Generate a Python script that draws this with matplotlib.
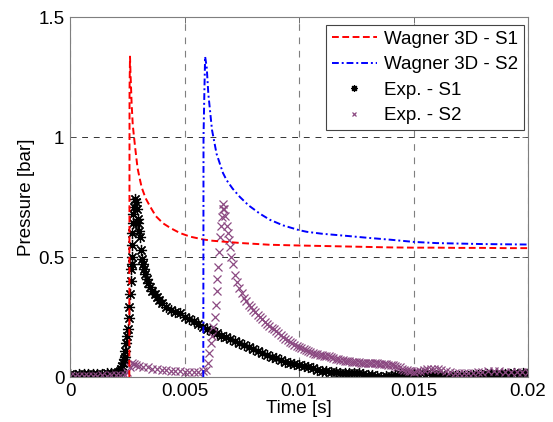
import numpy as np
import matplotlib
matplotlib.use("Agg")
import matplotlib.pyplot as plt
from matplotlib.ticker import FormatStrFormatter

# Wagner 3D model, (time [ms], pressure [bar])
wagner_s1 = [(2.59, 0.0), (2.60, 1.20), (2.62, 1.335), (2.64, 1.27), (2.66, 1.22),
             (2.69, 1.14), (2.74, 1.05), (2.84, 0.96), (2.95, 0.87), (3.06, 0.82),
             (3.13, 0.79), (3.3, 0.745), (3.5, 0.71), (3.75, 0.67), (4.07, 0.64),
             (4.4, 0.62), (4.8, 0.60), (5.24, 0.585), (5.82, 0.573), (6.2, 0.568),
             (6.7, 0.564), (7.5, 0.558), (8.73, 0.551), (10.0, 0.548), (11.0, 0.546),
             (12.0, 0.544), (13.0, 0.542), (14.0, 0.54), (15.0, 0.539), (16.0, 0.539),
             (17.0, 0.538), (18.0, 0.538), (19.0, 0.537), (20.0, 0.537)]

wagner_s2 = [(5.82, 0.0), (5.83, 1.0), (5.87, 1.2), (5.9, 1.335), (5.97, 1.29),
             (6.04, 1.18), (6.2, 1.03), (6.4, 0.93), (6.68, 0.85), (6.84, 0.82),
             (7.1, 0.785), (7.42, 0.75), (7.8, 0.715), (8.3, 0.68), (8.73, 0.655),
             (9.3, 0.632), (10.0, 0.612), (10.34, 0.605), (11.0, 0.597), (12.2, 0.587),
             (13.0, 0.58), (14.0, 0.572), (15.0, 0.563), (16.0, 0.558), (17.0, 0.556),
             (18.0, 0.554), (19.0, 0.553), (20.0, 0.552)]

# experiments, (time [ms], pressure [bar])
exp_s1 = [(0.0, 0.012), (0.2, 0.010), (0.4, 0.012), (0.6, 0.011), (0.8, 0.013),
          (1.0, 0.012), (1.2, 0.014), (1.4, 0.013), (1.6, 0.015), (1.8, 0.016),
          (2.0, 0.017), (2.1, 0.02), (2.18, 0.025), (2.22, 0.035), (2.26, 0.045),
          (2.30, 0.06), (2.34, 0.075), (2.38, 0.085), (2.42, 0.11), (2.46, 0.14),
          (2.50, 0.17), (2.53, 0.20), (2.56, 0.245), (2.59, 0.29), (2.62, 0.345),
          (2.65, 0.40), (2.68, 0.45), (2.69, 0.47), (2.70, 0.50), (2.71, 0.55),
          (2.72, 0.60), (2.74, 0.64), (2.76, 0.68), (2.79, 0.71), (2.84, 0.74),
          (2.88, 0.73), (2.92, 0.70), (2.95, 0.66), (2.98, 0.64), (3.02, 0.61),
          (3.06, 0.585), (3.10, 0.53), (3.13, 0.49), (3.18, 0.47), (3.23, 0.45),
          (3.28, 0.43), (3.35, 0.41), (3.42, 0.39), (3.50, 0.376), (3.6, 0.36),
          (3.7, 0.345), (3.8, 0.335), (3.9, 0.32), (4.0, 0.31), (4.2, 0.29),
          (4.4, 0.28), (4.6, 0.27), (4.8, 0.265), (5.0, 0.252), (5.2, 0.24),
          (5.4, 0.232), (5.6, 0.22), (5.8, 0.21), (6.0, 0.20), (6.2, 0.19),
          (6.4, 0.182), (6.6, 0.172), (6.8, 0.165), (7.0, 0.157), (7.2, 0.148),
          (7.4, 0.14), (7.6, 0.132), (7.8, 0.125), (8.0, 0.117), (8.2, 0.11),
          (8.4, 0.10), (8.6, 0.092), (8.8, 0.085), (9.0, 0.078), (9.2, 0.07),
          (9.4, 0.064), (9.6, 0.06), (9.8, 0.055), (10.0, 0.05), (10.2, 0.046),
          (10.4, 0.041), (10.6, 0.036), (10.8, 0.031), (11.0, 0.027), (11.2, 0.024),
          (11.4, 0.022), (11.6, 0.02), (11.8, 0.018), (12.0, 0.016), (12.2, 0.015),
          (12.4, 0.016), (12.6, 0.015), (12.8, 0.014), (13.0, 0.01), (13.2, 0.008),
          (13.4, 0.005), (13.6, 0.002), (13.8, 0.003), (14.0, 0.006), (14.2, 0.009),
          (14.4, 0.011), (14.6, 0.012), (14.8, 0.013), (15.0, 0.012), (15.2, 0.014),
          (15.4, 0.016), (15.6, 0.015), (15.8, 0.014), (16.0, 0.01), (16.2, 0.008),
          (16.4, 0.006), (16.6, 0.005), (16.8, 0.004), (17.0, 0.003), (17.2, 0.004),
          (17.4, 0.005), (17.6, 0.007), (17.8, 0.009), (18.0, 0.01), (18.2, 0.011),
          (18.4, 0.012), (18.6, 0.011), (18.8, 0.012), (19.0, 0.013), (19.2, 0.014),
          (19.4, 0.015), (19.6, 0.014), (19.8, 0.015), (20.0, 0.015)]

exp_s2 = [(0.0, 0.005), (0.2, 0.004), (0.4, 0.006), (0.6, 0.005), (0.8, 0.004),
          (1.0, 0.006), (1.2, 0.005), (1.4, 0.007), (1.6, 0.006), (1.8, 0.008),
          (2.0, 0.007), (2.2, 0.008), (2.4, 0.01), (2.5, 0.02), (2.6, 0.04),
          (2.7, 0.06), (2.8, 0.055), (2.9, 0.05), (3.0, 0.047), (3.2, 0.043),
          (3.4, 0.04), (3.6, 0.035), (3.8, 0.032), (4.0, 0.03), (4.2, 0.028),
          (4.4, 0.026), (4.6, 0.024), (4.8, 0.023), (5.0, 0.022), (5.2, 0.022),
          (5.4, 0.021), (5.6, 0.022), (5.8, 0.024), (5.95, 0.03), (6.02, 0.06),
          (6.08, 0.1), (6.14, 0.14), (6.19, 0.17), (6.26, 0.21), (6.33, 0.25),
          (6.37, 0.30), (6.40, 0.36), (6.44, 0.41), (6.48, 0.46), (6.51, 0.52),
          (6.55, 0.585), (6.58, 0.63), (6.62, 0.667), (6.66, 0.70), (6.70, 0.72),
          (6.74, 0.70), (6.78, 0.67), (6.84, 0.63), (6.90, 0.60), (6.95, 0.57),
          (7.0, 0.54), (7.05, 0.50), (7.1, 0.47), (7.2, 0.425), (7.3, 0.395),
          (7.4, 0.37), (7.5, 0.35), (7.6, 0.33), (7.7, 0.315), (7.8, 0.30),
          (7.9, 0.29), (8.0, 0.28), (8.1, 0.27), (8.2, 0.26), (8.3, 0.25),
          (8.4, 0.24), (8.5, 0.23), (8.6, 0.222), (8.7, 0.213), (8.8, 0.205),
          (8.9, 0.198), (9.0, 0.19), (9.1, 0.184), (9.2, 0.177), (9.3, 0.168),
          (9.4, 0.16), (9.5, 0.154), (9.6, 0.147), (9.7, 0.14), (9.8, 0.135),
          (9.9, 0.13), (10.0, 0.126), (10.1, 0.121), (10.2, 0.116), (10.3, 0.112),
          (10.4, 0.108), (10.5, 0.104), (10.6, 0.1), (10.7, 0.097), (10.8, 0.094),
          (10.9, 0.092), (11.0, 0.09), (11.1, 0.088), (11.2, 0.087), (11.3, 0.086),
          (11.4, 0.084), (11.5, 0.08), (11.6, 0.077), (11.7, 0.075), (11.8, 0.072),
          (11.9, 0.07), (12.0, 0.068), (12.1, 0.066), (12.2, 0.065), (12.3, 0.063),
          (12.4, 0.062), (12.5, 0.061), (12.6, 0.061), (12.7, 0.06), (12.8, 0.06),
          (12.9, 0.059), (13.0, 0.059), (13.1, 0.058), (13.2, 0.058), (13.3, 0.057),
          (13.4, 0.057), (13.5, 0.056), (13.6, 0.055), (13.7, 0.054), (13.8, 0.053),
          (13.9, 0.052), (14.0, 0.051), (14.1, 0.05), (14.2, 0.047), (14.3, 0.043),
          (14.4, 0.04), (14.5, 0.035), (14.6, 0.031), (14.7, 0.028), (14.8, 0.025),
          (14.9, 0.023), (15.0, 0.022), (15.15, 0.023), (15.3, 0.025), (15.45, 0.029),
          (15.6, 0.032), (15.75, 0.034), (15.9, 0.034), (16.05, 0.032), (16.2, 0.028),
          (16.4, 0.024), (16.6, 0.02), (16.8, 0.018), (17.0, 0.017), (17.2, 0.016),
          (17.4, 0.017), (17.6, 0.018), (17.8, 0.02), (18.0, 0.022), (18.25, 0.025),
          (18.5, 0.027), (18.75, 0.025), (19.0, 0.022), (19.25, 0.021), (19.5, 0.02),
          (19.75, 0.02), (20.0, 0.02)]

x_ticks = [0, 0.005, 0.01, 0.015, 0.02]
y_ticks = [0, 0.5, 1, 1.5]

plt.rcParams['font.family'] = ['Liberation Sans', 'DejaVu Sans']
FS = 13.5

# matlab style asterisk: + and x together
ASTERISK = (8, 2, 0)


def to_arrays(pairs):
    a = np.array(pairs)
    return a[:, 0] / 1000.0, a[:, 1]


fig = plt.figure(figsize=(5.53, 4.22), dpi=100)
ax = fig.add_axes([0.1266, 0.1066, 0.8282, 0.8531])

t, p = to_arrays(wagner_s1)
ax.plot(t, p, color='#ff0000', linestyle=(0, (3.5, 1.8)), lw=1.4, label='Wagner 3D - S1', zorder=3)
t, p = to_arrays(wagner_s2)
ax.plot(t, p, color='#0000ff', linestyle=(0, (3.5, 1.5, 1, 1.5)), lw=1.4, label='Wagner 3D - S2', zorder=3)
t, p = to_arrays(exp_s1)
ax.plot(t, p, linestyle='none', marker=ASTERISK, ms=8, mfc='none', mec='black', mew=0.9,
        label='Exp. - S1', zorder=2)
t, p = to_arrays(exp_s2)
ax.plot(t, p, linestyle='none', marker='x', ms=6, mec='#8c4a82', mew=0.9,
        label='Exp. - S2', zorder=2)

ax.set_xlim(0, 0.02)
ax.set_ylim(0, 1.5)
ax.set_xticks(x_ticks)
ax.set_yticks(y_ticks)
ax.xaxis.set_major_formatter(FormatStrFormatter('%g'))
ax.yaxis.set_major_formatter(FormatStrFormatter('%g'))
ax.tick_params(direction='in', length=4, width=0.6, top=True, right=True,
               labelsize=FS, color='#555555', pad=4)
for s in ax.spines.values():
    s.set_color('#7f7f7f')
    s.set_linewidth(0.8)

ax.xaxis.grid(True, linestyle=(0, (6, 6)), color='#7f7f7f', lw=0.8)
ax.yaxis.grid(True, linestyle=(0, (6, 6)), color='#333333', lw=0.7)
ax.set_axisbelow(True)

ax.set_xlabel('Time [s]', fontsize=FS, labelpad=0)
ax.set_ylabel('Pressure [bar]', fontsize=FS, labelpad=2)

leg = ax.legend(loc='upper right', bbox_to_anchor=(0.9913, 0.9778), borderaxespad=0,
                fontsize=FS, handlelength=2.4, handletextpad=0.4,
                labelspacing=0.45, fancybox=False, framealpha=1,
                borderpad=0.3, markerscale=0.6)
leg.get_frame().set_edgecolor('#444444')
leg.get_frame().set_linewidth(0.8)

fig.savefig('out.png', dpi=100)
